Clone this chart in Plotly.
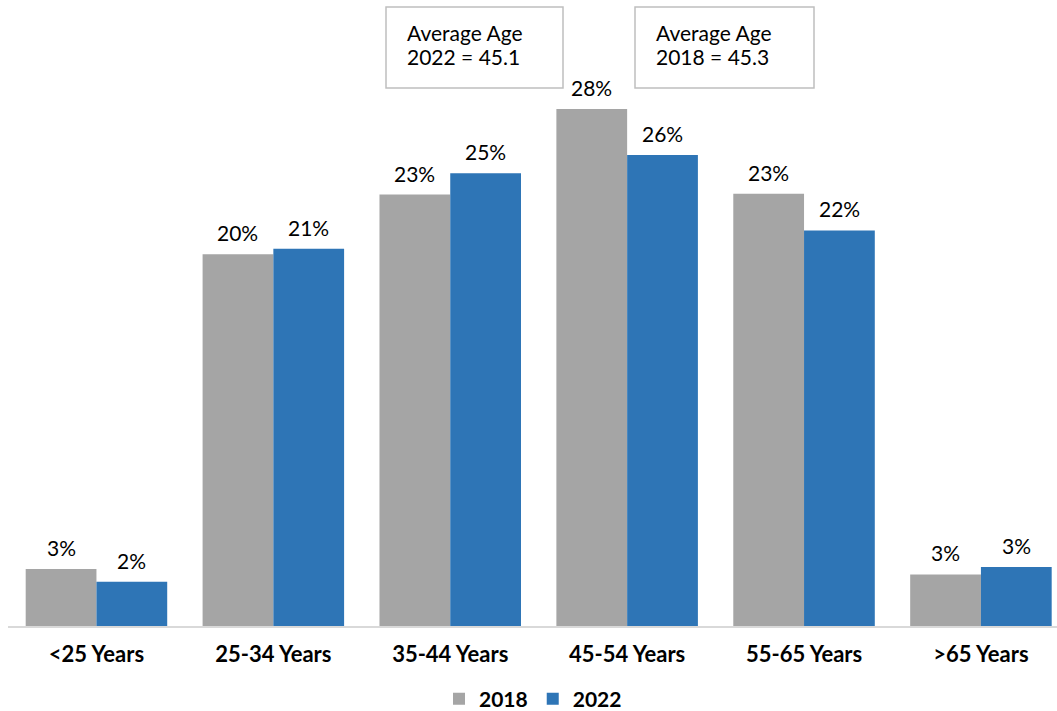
import plotly.graph_objects as go

# Age distribution by survey year (percent of respondents)
categories = ["<25 Years", "25-34 Years", "35-44 Years", "45-54 Years", "55-65 Years", ">65 Years"]
share_2018 = [3.1, 20.2, 23.45, 28.1, 23.49, 2.8]
share_2022 = [2.4, 20.5, 24.6, 25.6, 21.5, 3.2]
series_names = ["2018", "2022"]
series_colors = ["#A5A5A5", "#2E75B6"]
avg_age_notes = [("Average Age", "2022 = 45.1"), ("Average Age", "2018 = 45.3")]

FONT = "Lato"
W, H = 1057, 711
ML, MR, MT, MB = 8, 0, 0, 85
PLOT_W = W - ML - MR
PLOT_H = H - MT - MB
X_RANGE = [-0.5, 5.43]
Y_RANGE = [0, 34.02]
BARGAP = 0.2


def pct_label(v):
    # whole-percent label, halves rounded up
    return f"{int(v + 0.5)}%"


fig = go.Figure()
for name, vals, col in zip(series_names, [share_2018, share_2022], series_colors):
    fig.add_trace(go.Bar(
        x=categories, y=vals, name=name,
        marker=dict(color=col, line=dict(width=0)),
        hoverinfo="skip",
    ))

# value labels above each bar, offset to the bar's slot in its group
cat_px = PLOT_W / (X_RANGE[1] - X_RANGE[0])
bar_px = cat_px * (1 - BARGAP) / 2
for i, vals in enumerate([share_2018, share_2022]):
    shift = (i - 0.5) * bar_px
    for c, v in zip(categories, vals):
        fig.add_annotation(
            x=c, y=v, xref="x", yref="y", text=pct_label(v),
            showarrow=False, xanchor="center", yanchor="bottom",
            xshift=shift, yshift=7,
            font=dict(family=FONT, size=21, color="#000000"),
        )

# average-age callout boxes
def px_x(p):
    return (p - ML) / PLOT_W

def px_y(p):
    return (PLOT_H + MT - p) / PLOT_H

boxes = [(386, 563), (635, 814)]
for (x0, x1), lines in zip(boxes, avg_age_notes):
    fig.add_shape(type="rect", xref="paper", yref="paper",
                  x0=px_x(x0), x1=px_x(x1), y0=px_y(88), y1=px_y(7),
                  line=dict(color="#BFBFBF", width=1.5), fillcolor="white", layer="above")
    for line, yc in zip(lines, (32, 56)):
        fig.add_annotation(x=px_x(x0 + 19), y=px_y(yc), xref="paper", yref="paper",
                           text=line, showarrow=False, xanchor="left", yanchor="middle",
                           align="left", font=dict(family=FONT, size=21, color="#000000"))

fig.update_layout(
    width=W, height=H, autosize=False,
    margin=dict(l=ML, r=MR, t=MT, b=MB, pad=0, autoexpand=False),
    paper_bgcolor="white", plot_bgcolor="white",
    barmode="group", bargap=BARGAP, bargroupgap=0,
    font=dict(family=FONT, color="#000000"),
    showlegend=True,
    legend=dict(orientation="h", x=px_x(533), xanchor="center", y=px_y(699), yanchor="middle",
                font=dict(family=FONT, size=21, color="#000000", weight="bold"),
                itemwidth=30, traceorder="normal"),
    xaxis=dict(range=X_RANGE, showgrid=False, zeroline=False,
               showline=True, linecolor="#D9D9D9", linewidth=2,
               ticks="", ticklabelstandoff=8,
               tickfont=dict(family=FONT, size=22, color="#000000", weight="bold")),
    yaxis=dict(range=Y_RANGE, visible=False, showgrid=False, zeroline=False),
)

fig.write_html("out.html")
